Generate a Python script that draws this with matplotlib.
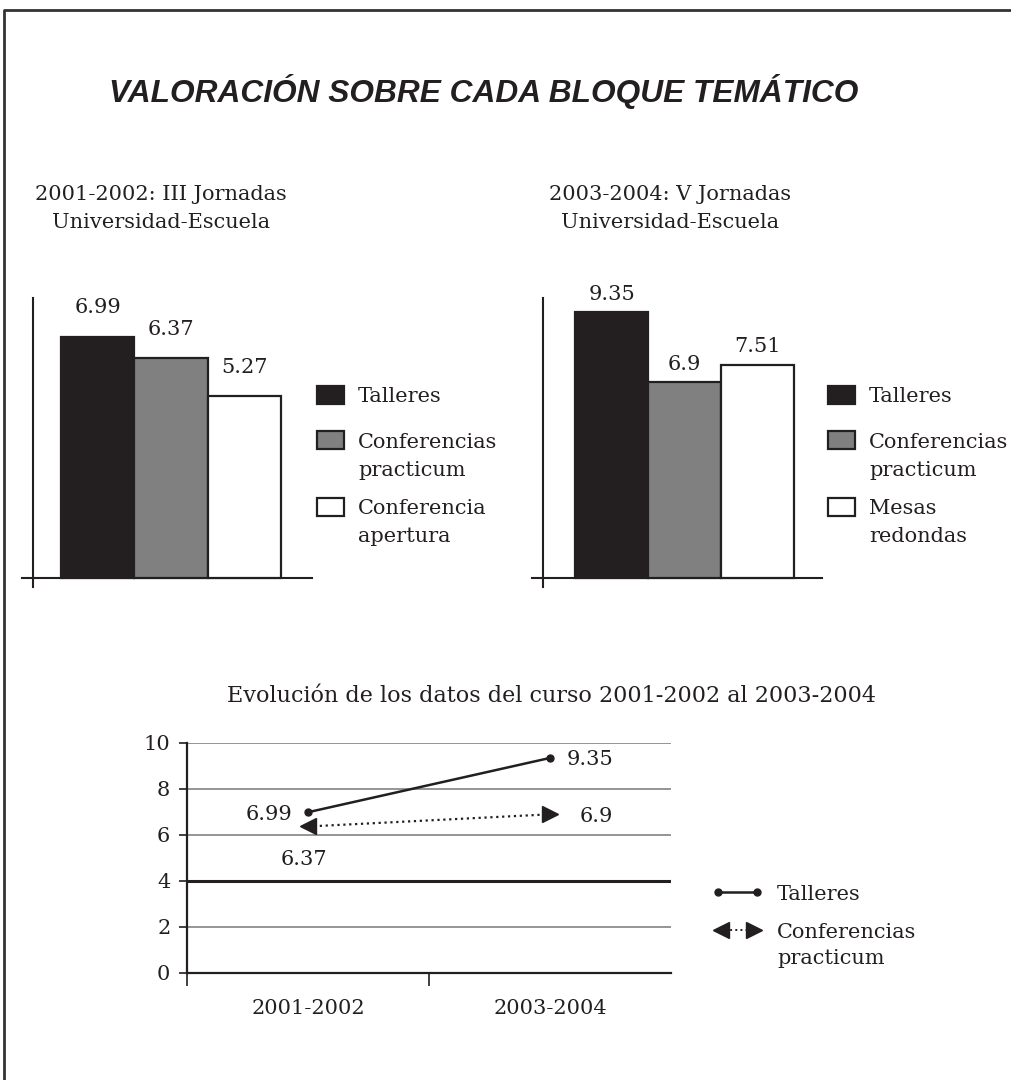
import matplotlib.pyplot as plt
from matplotlib.lines import Line2D
from matplotlib.patches import Rectangle

W, H = 1012, 1080
INK = '#231f20'

# data
bloques_0102 = ['Talleres', 'Conferencias\npracticum', 'Conferencia\napertura']
valores_0102 = [6.99, 6.37, 5.27]
bloques_0304 = ['Talleres', 'Conferencias\npracticum', 'Mesas\nredondas']
valores_0304 = [9.35, 6.9, 7.51]
cursos = ['2001-2002', '2003-2004']
evol_talleres = [6.99, 9.35]
evol_conferencias = [6.37, 6.9]
series_evol = ['Talleres', 'Conferencias\npracticum']
colores_barras = [INK, '#808080', 'white']

plt.rcParams['font.family'] = ['DejaVu Serif']
plt.rcParams['font.size'] = 15
plt.rcParams['text.color'] = INK
plt.rcParams['xtick.color'] = INK
plt.rcParams['ytick.color'] = INK

fig = plt.figure(figsize=(W / 100, H / 100), dpi=100)


def fx(x):
    return x / W


def fy(y):
    return 1 - y / H


def axes_px(x0, y0, x1, y1):
    return fig.add_axes([fx(x0), fy(y1), (x1 - x0) / W, (y1 - y0) / H])


def lines_text(x, y, txt, step, **kw):
    # one fig.text per line so the first line sits exactly at y
    for k, line in enumerate(txt.split('\n')):
        fig.text(fx(x), fy(y + k * step), line, va='center_baseline', **kw)


def bar_chart(box, values, xlim, ylim, spine_x, label_off):
    ax = axes_px(*box)
    xs = range(len(values))
    ax.bar(xs, values, width=1, color=colores_barras, edgecolor=INK, linewidth=1.6, zorder=3)
    for i, v in zip(xs, values):
        ax.annotate(str(v), (i, v), xytext=(0, label_off), textcoords='offset points',
                    ha='center', va='baseline')
    ax.set_xlim(*xlim)
    ax.set_ylim(*ylim)
    ax.set_xticks([])
    ax.set_yticks([])
    ax.spines['left'].set_position(('data', spine_x))
    ax.spines['bottom'].set_position(('data', 0))
    for s in ['left', 'bottom']:
        ax.spines[s].set_linewidth(1.5)
        ax.spines[s].set_color(INK)
    ax.spines['top'].set_visible(False)
    ax.spines['right'].set_visible(False)
    ax.patch.set_visible(False)
    return ax


def bar_legend(x, ys, labels):
    for y, lab, col in zip(ys, labels, colores_barras):
        fig.add_artist(Rectangle((fx(x), fy(y + 9)), 27 / W, 18 / H, transform=fig.transFigure,
                                 facecolor=col, edgecolor=INK, lw=1.6))
        lines_text(x + 41, y, lab, 28, ha='left')


# frame
fig.add_artist(Line2D([fx(4), fx(4), fx(1012)], [fy(1080), fy(10), fy(10)],
                      transform=fig.transFigure, color='#333333', lw=2))

fig.text(fx(484), fy(88), 'VALORACIÓN SOBRE CADA BLOQUE TEMÁTICO', family='Liberation Sans',
         weight='bold', style='italic', size=22.8, ha='center', va='center_baseline')

lines_text(161, 192, '2001-2002: III Jornadas\nUniversidad-Escuela', 29, ha='center')
lines_text(670, 192, '2003-2004: V Jornadas\nUniversidad-Escuela', 29, ha='center')

# bar charts
bar_chart((22, 298, 312, 587), valores_0102, (-1.04, 2.93), (-0.26, 8.12), -0.89, 17)
bar_legend(317, [395, 440, 507], bloques_0102)
bar_chart((532, 298, 822, 587), valores_0304, (-1.09, 2.88), (-0.317, 9.86), -0.94, 9)
bar_legend(828, [395, 440, 507], bloques_0304)

# evolution chart
fig.text(fx(552), fy(693), 'Evolución de los datos del curso 2001-2002 al 2003-2004',
         ha='center', va='center_baseline', size=16)

ax = axes_px(187, 743, 671, 973)
xs = list(range(len(cursos)))
ax.plot(xs, evol_talleres, '-', color=INK, lw=1.8, marker='o', ms=5, zorder=4)
ax.plot(xs, evol_conferencias, ':', color=INK, lw=1.6, zorder=4)
ax.plot(xs[0], evol_conferencias[0], marker='<', ms=12, color=INK, zorder=5)
ax.plot(xs[1], evol_conferencias[1], marker='>', ms=12, color=INK, zorder=5)

ax.annotate(str(evol_talleres[0]), (0, evol_talleres[0]), xytext=(-11, 0),
            textcoords='offset points', ha='right', va='center_baseline')
ax.annotate(str(evol_talleres[1]), (1, evol_talleres[1]), xytext=(12, 0),
            textcoords='offset points', ha='left', va='center_baseline')
ax.annotate(str(evol_conferencias[1]), (1, evol_conferencias[1]), xytext=(21, 0),
            textcoords='offset points', ha='left', va='center_baseline')
ax.annotate(str(evol_conferencias[0]), (0, evol_conferencias[0]), xytext=(-3, -22),
            textcoords='offset points', ha='center', va='center_baseline')

ax.set_xlim(-0.5, 1.5)
ax.set_ylim(0, 10)
ax.set_yticks(range(0, 11, 2))
ax.set_xticks(xs, cursos)
ax.set_xticks([-0.5, 0.5], minor=True)
ax.tick_params(axis='x', which='major', length=0, pad=19)
ax.tick_params(axis='x', which='minor', length=9, width=1.2)
ax.tick_params(axis='y', length=6, width=1.2, pad=6)
ax.spines['top'].set_visible(False)
ax.spines['right'].set_visible(False)
for s in ['left', 'bottom']:
    ax.spines[s].set_linewidth(1.6)
    ax.spines[s].set_color(INK)
ax.grid(axis='y', color='#8c8c8c', lw=1.3)
ax.set_axisbelow(True)
ax.axhline(4, color=INK, lw=2.2, zorder=1.5)

# evolution legend
fig.add_artist(Line2D([fx(718), fx(757)], [fy(892)] * 2, transform=fig.transFigure,
                      color=INK, lw=1.8, marker='o', ms=5))
fig.add_artist(Line2D([fx(725), fx(750)], [fy(930)] * 2, transform=fig.transFigure,
                      color=INK, lw=1.4, ls=':'))
fig.add_artist(Line2D([fx(721)], [fy(930)], transform=fig.transFigure, color=INK,
                      marker='<', ms=12, ls='none'))
fig.add_artist(Line2D([fx(754)], [fy(930)], transform=fig.transFigure, color=INK,
                      marker='>', ms=12, ls='none'))
for y, lab in zip([892, 930], series_evol):
    lines_text(777, y, lab, 27, ha='left')

fig.savefig('out.png', dpi=100)
